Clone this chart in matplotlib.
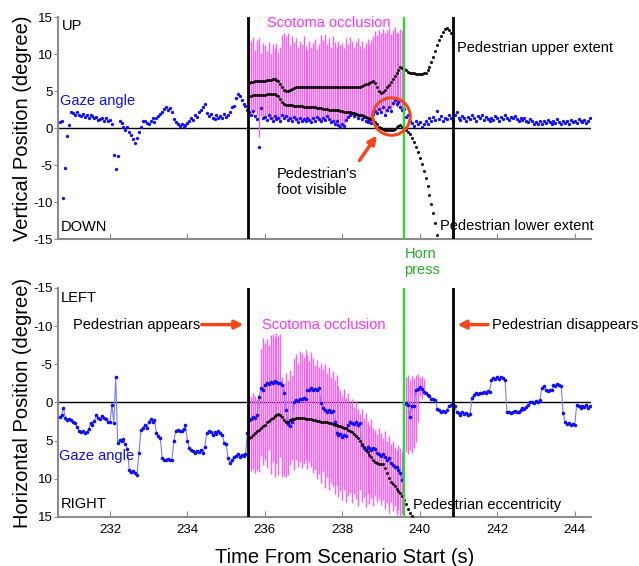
import numpy as np
import matplotlib
matplotlib.use('Agg')
import matplotlib.pyplot as plt

plt.rcParams['font.family'] = ['Liberation Sans', 'DejaVu Sans']
plt.rcParams['axes.unicode_minus'] = False

# event times (s)
t_appear = 235.56
t_horn = 239.59
t_gone = 240.85

# ---- top panel: vertical position (deg), gaze sampled every 0.05 s from 230.70
vert_t0 = 230.70
vert_gaze = [
    0.8, 0.9, -9.4, -5.4, -1.1, 0.4,
    2.2, 2.0, 1.7, 2.1, 1.8, 1.6, 1.9, 1.5, 1.7, 1.4, 1.8, 1.6, 1.3, 1.5, 1.1, 1.2, 1.4, 0.9, 1.3, 1.0,
    1.1, 0.6, -3.6, -5.6, -3.8, 1.0, 0.7, 0.2, -0.3, 0.1, -0.6, -1.0, -1.5, -2.0, -1.3, -0.5, 0.2, 0.9, 1.0, 0.7,
    0.6, 1.0, 1.3, 0.8, 1.4, 1.6, 1.9, 2.2, 2.6, 2.9, 2.4, 2.7, 2.2, 1.2, 0.8, 0.5, 0.3, 0.6, 0.1, 0.4,
    0.7, 0.9, 1.4, 1.1, 1.8, 1.5, 2.1, 2.4, 2.8, 3.3, 2.0, 1.6, 1.9, 1.4, 1.2, 1.7, 1.3, 1.6, 1.4, 1.9,
    1.5, 1.7, 2.1, 2.8, 3.0, 4.0, 4.6, 4.3, 3.8, 3.3, 3.0, 2.4, 2.2, 1.8, 2.3, 1.6, 1.2, -2.6, 2.7, 1.4,
    1.5, 1.1, 1.8, 1.3, 1.0, 1.6, 1.2, 1.4, 0.9, 1.7, 1.3, 1.6, 1.1, 1.4, 1.0, 1.5, 1.2, 0.8, 1.3, 1.0,
    1.2, 0.9, 1.4, 1.1, 0.8, 1.3, 1.0, 1.5, 1.2, 0.9, 1.3, 1.1, 1.6, 1.2, 0.8, 1.0, 0.6, 0.9, 0.4, 0.2,
    0.5, 0.3, 1.1, 1.5, 1.8, 2.0, 1.6, 1.9, 1.4, 1.7, 1.2, 1.5, 1.0, 0.8, 1.1, 0.7, 1.9, 2.3, 2.0, 2.6,
    2.2, 2.8, 1.7, 2.4, 2.9, 2.3, 3.4, 3.8, 3.2, 3.5, 2.9, 2.4, 2.6, 1.5, 1.8, 1.0, 0.7, 0.3, 0.9, 0.5,
    0.8, 0.2, 0.6, 1.0, 0.5, 1.3, 0.9, 1.5, 1.1, 2.3, 1.2, 1.6, 1.0, 1.4, 1.2, 1.8, 1.3, 1.0, 1.7, 2.2,
    1.4, 1.1, 1.6, 1.3, 0.9, 1.5, 1.2, 1.8, 1.4, 1.0, 1.6, 1.3, 1.7, 1.1, 1.5, 1.2, 0.9, 1.4, 1.1, 1.6,
    1.3, 1.0, 1.5, 1.2, 1.7, 1.4, 1.1, 1.5, 1.3, 1.6, 1.2, 0.9, 1.3, 1.1, 1.4, 1.0, 0.8, 1.2, 0.9, 0.6,
    0.8, 0.5, 0.9, 0.6, 1.0, 0.7, 1.1, 0.8, 0.5, 1.0, 0.7, 1.2, 0.8, 0.6, 1.0, 0.7, 0.9, 0.6, 1.1, 0.8,
    1.0, 0.7, 1.2, 0.9, 0.8, 1.1, 0.7, 1.0, 1.3,
]

# scotoma bars (every 0.05 s from 235.60)
vbar_t0 = 235.60
vbar_top = [
    12.2, 11.8, 12.3, 10.6, 11.9, 12.1, 10.2, 11.5,
    11.2, 10.4, 11.6, 10.0, 11.3, 10.8, 11.5, 10.3, 11.0, 12.6, 12.9, 12.4, 12.8, 11.2, 12.5, 11.6, 12.1, 10.9, 11.8, 11.3,
    12.4, 11.1, 10.6, 11.8, 10.9, 11.5, 12.0, 10.7, 11.4, 12.6, 11.9, 12.7, 11.3, 12.2, 11.0, 12.5, 11.6, 10.9, 11.8, 11.2,
    11.5, 10.8, 12.1, 11.4, 12.3, 11.7, 10.9, 11.6, 12.2, 11.1, 11.8, 10.8, 11.5, 12.0, 11.3, 11.9, 12.4, 13.1, 12.6, 13.3,
    12.9, 13.4, 12.8, 13.2, 13.5, 12.7, 13.3, 13.6, 13.0, 12.8, 13.4, 13.2,
]
vbar_bot = [
    2.2, 2.0, 1.7, 2.3, 1.8, -1.2, 1.6, 1.4,
    1.3, 1.7, 1.2, 1.5, 1.0, 1.4, 1.1, 1.3, 0.8, 1.5, 1.2, 1.4, 1.0, 1.3, 0.9, 1.2, 1.0, 0.7, 1.1, 0.9,
    1.0, 0.8, 1.2, 0.9, 0.7, 1.1, 0.9, 1.3, 1.0, 0.8, 1.1, 0.9, 1.4, 1.0, 0.7, 0.9, 0.5, 0.7, 0.3, 0.1,
    0.3, 0.2, 0.9, 1.3, 1.6, 1.7, 1.4, 1.6, 1.2, 1.5, 1.0, 1.3, 0.8, 0.7, 0.9, 0.6, 1.6, 2.0, 1.8, 2.3,
    2.0, 2.5, 1.6, 2.2, 2.6, 2.1, 3.0, 3.4, 2.9, 3.1, 2.6, 2.2,
]

# pedestrian extents (every 0.05 s from 235.60)
ped_t0 = 235.60
ped_upper = [
    6.1, 6.2, 6.2, 6.3, 6.3, 6.3, 6.4, 6.4,
    6.4, 6.5, 6.5, 6.5, 6.6, 6.6, 6.5, 6.3, 6.0, 5.6, 5.2, 5.0, 5.0, 5.1, 5.3, 5.4, 5.5, 5.5, 5.5, 5.5,
    5.5, 5.5, 5.5, 5.5, 5.5, 5.5, 5.5, 5.5, 5.5, 5.5, 5.5, 5.5, 5.5, 5.5, 5.5, 5.5, 5.5, 5.5, 5.5, 5.5,
    5.6, 5.6, 5.6, 5.6, 5.6, 5.6, 5.6, 5.6, 5.6, 5.6, 5.7, 5.8, 5.9, 6.0, 6.1, 6.2, 6.3, 6.1, 5.5, 5.0,
    4.8, 4.9, 5.2, 5.5, 5.8, 6.2, 6.6, 7.0, 7.5, 7.9, 8.2, 8.1, 8.0, 7.8, 7.6, 7.5, 7.4, 7.4, 7.3, 7.3,
    7.3, 7.3, 7.4, 7.5, 7.8, 8.3, 8.9, 9.6, 10.4, 11.2, 11.9, 12.5, 13.0, 13.4, 13.5, 13.3, 12.8, 11.6,
]
ped_lower = [
    4.3, 4.3, 4.4, 4.4, 4.4, 4.5, 4.5, 4.5,
    4.5, 4.6, 4.6, 4.6, 4.6, 4.6, 4.5, 4.3, 3.9, 3.5, 3.2, 3.1, 3.1, 3.1, 3.1, 3.0, 3.0, 3.0, 3.0, 3.0,
    2.9, 2.9, 2.9, 2.9, 2.8, 2.8, 2.8, 2.7, 2.7, 2.7, 2.6, 2.6, 2.6, 2.5, 2.5, 2.5, 2.4, 2.4, 2.4, 2.3,
    2.3, 2.2, 2.2, 2.1, 2.1, 2.0, 2.0, 1.9, 1.8, 1.8, 1.7, 1.6, 1.5, 1.4, 1.3, 1.2, 1.1, 0.8, 0.5, 0.2,
    0.0, -0.1, -0.2, -0.2, -0.2, -0.2, -0.2, -0.1, 0.1, 0.3, 0.4, 0.2, 0.0, -0.2, -0.5, -0.8, -1.3, -1.9, -2.5, -3.2,
    -4.0, -4.9, -5.8, -6.8, -7.9, -9.0, -10.2, -11.5, -12.9, -14.5,
]

# ---- bottom panel: horizontal position (deg, + = right), every 0.05 s from 230.70
hor_t0 = 230.70
hor_gaze = [
    1.9, 1.7, 0.7, 2.0, 2.3, 2.1,
    2.3, 2.5, 2.7, 3.2, 3.7, 3.9, 3.8, 4.0, 3.9, 3.5, 2.7, 2.9, 2.4, 1.6, 2.0, 2.2, 1.8, 2.0, 2.2, 2.5,
    2.6, 0.3, 2.7, -3.3, 5.3, 4.9, 5.0, 4.8, 5.4, 6.1, 8.8, 9.1, 9.0, 9.3, 9.5, 6.6, 3.6, 3.3, 3.0, 3.4,
    2.5, 2.2, 2.6, 2.3, 4.0, 4.4, 4.6, 7.3, 7.5, 7.6, 7.4, 7.6, 7.5, 5.0, 3.7, 3.6, 3.8, 3.7, 3.5, 3.0,
    5.0, 5.9, 6.2, 6.4, 6.6, 6.3, 6.5, 6.2, 6.6, 5.8, 4.0, 3.8, 3.9, 4.2, 3.9, 4.1, 3.8, 4.0, 4.3, 5.3,
    5.5, 7.3, 7.9, 7.5, 7.2, 7.0, 6.8, 7.1, 6.9, 7.0, 6.8, 4.0, 2.3, 2.1, 1.9, 2.0, 1.6, -0.7, -1.9, -1.6,
    -2.3, -2.5, -2.4, -2.7, -2.6, -2.8, -2.7, -2.5, -2.6, -2.3, -1.2, 1.0, 2.8, 3.1, 2.6, 0.0, -0.3, -0.2, -0.5, -0.4,
    -0.6, -0.5, -1.6, -1.7, -1.9, -1.7, -1.8, -1.6, -1.9, 0.1, 0.7, 1.0, 1.2, 1.0, 1.3, 1.1, 2.5, 4.0, 4.3, 4.1,
    4.5, 4.2, 4.4, 2.9, 2.6, 2.7, 2.8, 2.6, 2.9, 2.7, 5.6, 5.9, 6.2, 5.8, 6.0, 6.2, 5.9, 6.1, 6.6, 6.8,
    7.0, 6.8, 7.2, 7.5, 7.3, 7.9, 8.2, 8.5, 8.4, 8.8, 9.2, 10.2, 0.2, 0.1, 0.3, 1.9, 0.4, 0.5, -1.6, -1.8,
    -2.0, -1.8, -1.4, -1.2, -1.0, -0.8, -0.5, -0.4, -0.3, 0.8, 1.0, 1.2, 1.1, 1.3, 1.0, 0.5, 0.3, 0.2, 0.4, 1.3,
    1.4, 1.6, 1.3, 1.5, 1.4, 1.6, 1.5, -0.6, -1.0, -1.2, -1.1, -1.3, -1.2, -1.4, -1.3, -1.5, -1.4, -2.9, -3.2, -3.1,
    -3.3, -3.1, -3.4, -3.2, -3.0, 1.3, 1.2, 1.4, 1.3, 1.1, 1.3, 1.2, 1.0, 0.7, 0.8, 0.6, 0.3, 0.0, -0.1, 0.1,
    -0.2, 0.0, -0.3, -1.9, -2.1, -1.6, -1.5, -1.7, -1.6, -2.3, -2.2, -2.4, -2.3, -2.2, 1.4, 2.6, 2.8, 2.7, 2.9, 2.8,
    2.9, 0.3, 0.5, 0.7, 0.4, 0.6, 0.3, 0.7, 0.5,
]

hbar_t0 = 235.60
hbar_top = [
    -1.0, -0.7, -1.2, -0.9, -0.5, -1.1, -7.0, -8.5,
    -7.8, -8.3, -7.5, -8.8, -9.0, -8.6, -9.1, -8.7, -9.0, -3.4, -2.6, -3.9, -3.0, -4.2, -3.6, -5.8, -6.4, -5.2, -6.8, -6.5,
    -6.0, -6.9, -6.2, -5.4, -6.6, -5.8, -4.9, -5.5, -4.7, -5.2, -4.4, -5.0, -3.8, -4.6, -3.4, -4.1, -3.0, -3.6, -2.2, -1.6,
    -1.0, -1.8, -0.6, -1.3, 0.0, -0.4, 0.6, -0.2, 0.8, 1.5, 0.9, 2.0, 1.4, 2.6, 3.0, 2.2, 3.4, 3.6, 4.1, 3.3,
    4.0, 4.6, 3.8, 5.0, 4.4, 5.5, 5.1, 5.8, 6.2, 5.6, 6.0, 6.5,
]
hbar_bot = [
    8.5, 9.0, 8.7, 9.2, 8.8, 9.1, 7.0, 8.2,
    7.5, 8.6, 6.2, 9.4, 7.8, 9.8, 8.0, 9.5, 7.2, 9.8, 9.6, 9.8, 9.5, 8.2, 7.6, 8.8, 7.5, 8.4, 7.8, 8.6,
    8.0, 7.5, 8.7, 7.8, 8.5, 9.2, 8.8, 10.0, 9.4, 10.6, 9.0, 11.2, 9.8, 11.5, 10.5, 11.0, 12.0, 10.8, 12.4, 11.6,
    12.8, 11.4, 13.0, 12.2, 11.8, 13.2, 12.0, 12.6, 13.5, 11.5, 13.0, 12.4, 13.7, 11.8, 13.3, 12.5, 13.6, 12.2, 13.0, 12.7,
    13.4, 12.8, 14.0, 13.2, 14.5, 13.0, 14.2, 13.6, 14.8, 14.1, 15.0, 14.6,
]
# short burst of bars right after the horn press
hbar2_t0 = 239.65
hbar2_top = [-3.3, -3.6, -3.0, -3.5, -3.2, -3.6, -3.7, -3.4, -3.5, -3.1]
hbar2_bot = [6.5, 6.8, 6.2, 6.6, 6.0, 5.2, 2.5, -0.8, -0.5, -1.0]

ecc_t0 = 235.60
ped_ecc = [
    4.7, 4.5, 4.2, 4.0, 3.8, 3.6, 3.3, 3.1,
    2.9, 2.6, 2.4, 2.2, 2.0, 1.8, 1.6, 1.5, 1.6, 1.9, 2.3, 2.6, 2.5, 2.3, 2.2, 2.1, 2.0, 2.0, 2.0, 2.0,
    2.0, 2.1, 2.1, 2.2, 2.2, 2.3, 2.3, 2.4, 2.4, 2.5, 2.5, 2.6, 2.6, 2.7, 2.7, 2.8, 2.9, 3.0, 3.1, 3.1,
    3.2, 3.3, 3.4, 3.6, 3.7, 3.9, 4.1, 4.4, 4.7, 5.0, 5.4, 5.8, 6.2, 6.5, 6.9, 7.2, 7.5, 7.8, 7.9, 8.0,
    8.0, 8.1, 8.6, 9.2, 9.9, 10.4, 10.7, 11.0, 11.3, 11.6, 11.9, 12.3, 12.8, 13.3, 14.0, 14.5, 14.9,
]

dt = 0.05
blue = '#1010f0'
magenta = '#ff5cf4'
red = '#f2461c'
green = '#22e022'
spine_grey = '#8c8c8c'
fs = 10.5
tick_fs = 9.5

fig = plt.figure(figsize=(6.39, 5.66), dpi=100)
ax1 = fig.add_axes([0.0908, 0.5777, 0.8341, 0.3922])
ax2 = fig.add_axes([0.0908, 0.0866, 0.8341, 0.4046])

for ax in (ax1, ax2):
    ax.set_xlim(230.66, 244.42)
    for s in ('top', 'right'):
        ax.spines[s].set_visible(False)
    for s in ('left', 'bottom'):
        ax.spines[s].set_color(spine_grey)
        ax.spines[s].set_linewidth(1.5)
    ax.set_xticks([232, 234, 236, 238, 240, 242, 244])
    ax.set_yticks([-15, -10, -5, 0, 5, 10, 15])
    ax.tick_params(axis='x', direction='in', length=4, color=spine_grey, labelsize=tick_fs, pad=5)
    ax.tick_params(axis='y', direction='out', length=3, color=spine_grey, labelsize=tick_fs, pad=1)
    ax.axhline(0, color='k', lw=1, zorder=1)
    ax.axvline(t_appear, color='k', lw=2, zorder=5)
    ax.axvline(t_gone, color='k', lw=2, zorder=5)
    ax.axvline(t_horn, color=green, lw=1.6, zorder=5)

# top panel
ax1.set_ylim(-15, 15)
ax1.tick_params(axis='x', labelbottom=False)
tb = vbar_t0 + dt * np.arange(len(vbar_top))
ax1.vlines(tb, vbar_bot, vbar_top, color=magenta, lw=1.0, zorder=2)
tg = vert_t0 + dt * np.arange(len(vert_gaze))
ax1.plot(tg, vert_gaze, 'o', ms=2.4, mew=0, color=blue, zorder=3)
tp = ped_t0 + dt * np.arange(len(ped_upper))
ax1.plot(tp, ped_upper, 'o', ms=2.2, mew=0, color='#140810', zorder=4)
tl = ped_t0 + dt * np.arange(len(ped_lower))
ax1.plot(tl, ped_lower, 'o', ms=2.2, mew=0, color='#140810', zorder=4)
ax1.set_ylabel('Vertical Position (degree)', fontsize=14.5)
ax1.yaxis.set_label_coords(-0.048, 0.5)

ax1.text(230.76, 13.8, 'UP', fontsize=fs, va='center')
ax1.text(230.74, -13.4, 'DOWN', fontsize=fs, va='center')
ax1.text(230.72, 3.65, 'Gaze angle', color=blue, fontsize=fs, va='center')
ax1.text(236.05, 14.2, 'Scotoma occlusion', color='#ff33ff', fontsize=fs, va='center')
ax1.text(240.95, 10.8, 'Pedestrian upper extent', fontsize=fs, va='center')
ax1.text(240.52, -13.2, 'Pedestrian lower extent', fontsize=fs, va='center')
ax1.text(236.31, -7.3, "Pedestrian's\nfoot visible", fontsize=fs, va='center', linespacing=1.25)
ax1.plot([239.25], [1.6], 'o', ms=27, mfc='none', mec=red, mew=2.2, zorder=6)
ax1.annotate('', xy=(238.93, -0.7), xytext=(238.40, -4.7),
             arrowprops=dict(arrowstyle='-|>', color=red, lw=2.5, mutation_scale=12))

# bottom panel
ax2.set_ylim(15, -15)
tb = hbar_t0 + dt * np.arange(len(hbar_top))
ax2.vlines(tb, hbar_bot, hbar_top, color=magenta, lw=1.0, zorder=2)
tb2 = hbar2_t0 + dt * np.arange(len(hbar2_top))
ax2.vlines(tb2, hbar2_bot, hbar2_top, color=magenta, lw=1.0, zorder=2)
tg = hor_t0 + dt * np.arange(len(hor_gaze))
ax2.plot(tg, hor_gaze, '-', lw=0.8, color='#7a7aff', zorder=3)
ax2.plot(tg, hor_gaze, 'o', ms=2.6, mew=0, color=blue, zorder=3)
te = ecc_t0 + dt * np.arange(len(ped_ecc))
ax2.plot(te, ped_ecc, 'o', ms=2.2, mew=0, color='#140810', zorder=4)
ax2.set_ylabel('Horizontal Position (degree)', fontsize=14.5)
ax2.yaxis.set_label_coords(-0.048, 0.5)
ax2.set_xlabel('Time From Scenario Start (s)', fontsize=14.5)
ax2.xaxis.set_label_coords(0.538, -0.135)

ax2.text(230.74, -13.7, 'LEFT', fontsize=fs, va='center')
ax2.text(230.74, 13.3, 'RIGHT', fontsize=fs, va='center')
ax2.text(230.68, 7.0, 'Gaze angle', color=blue, fontsize=fs, va='center')
ax2.text(231.05, -10.2, 'Pedestrian appears', fontsize=fs, va='center')
ax2.annotate('', xy=(235.52, -10.2), xytext=(234.30, -10.2),
             arrowprops=dict(arrowstyle='-|>', color=red, lw=2.5, mutation_scale=12))
ax2.text(235.92, -10.2, 'Scotoma occlusion', color='#ff33ff', fontsize=fs, va='center')
ax2.text(241.86, -10.2, 'Pedestrian disappears', fontsize=fs, va='center')
ax2.annotate('', xy=(240.90, -10.2), xytext=(241.83, -10.2),
             arrowprops=dict(arrowstyle='-|>', color=red, lw=2.5, mutation_scale=12))
ax2.text(239.82, 13.4, 'Pedestrian eccentricity', fontsize=fs, va='center')
ax2.text(239.60, -18.4, 'Horn\npress', color='#2aa82a', fontsize=fs, va='center',
         linespacing=1.25, clip_on=False)

fig.savefig('out.png', dpi=100)
